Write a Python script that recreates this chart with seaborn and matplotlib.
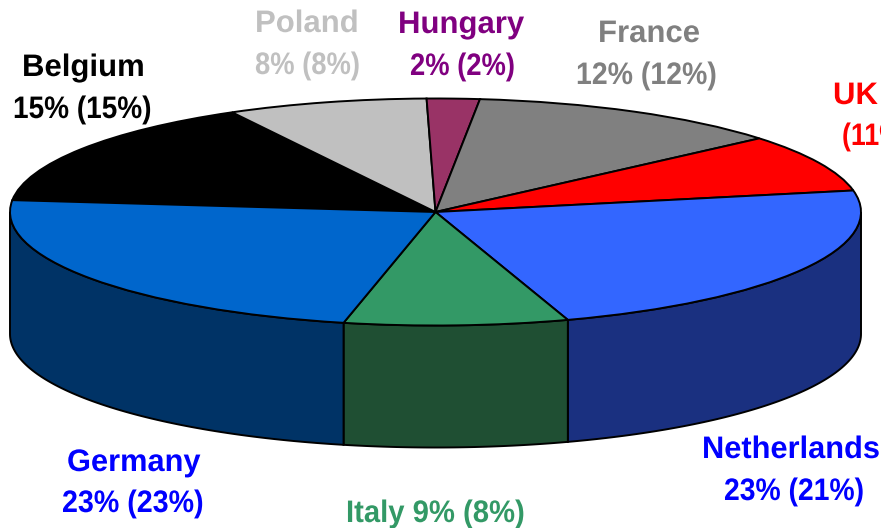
import numpy as np
import seaborn as sns
import matplotlib
matplotlib.use("Agg")
import matplotlib.pyplot as plt
from matplotlib.patheffects import AbstractPathEffect
from matplotlib.transforms import Affine2D

countries = ["Belgium", "Poland", "Hungary", "France", "UK", "Netherlands", "Italy", "Germany"]
# slice sizes as measured on the picture, the labels round them
shares = [15.4, 7.6, 2.0, 12.1, 8.2, 23.0, 8.5, 23.2]
top_colors = ["#000000", "#C0C0C0", "#993366", "#808080", "#FF0000", "#3366FF", "#339966", "#0066CC"]
side_colors = ["#000000", "#C0C0C0", "#993366", "#808080", "#FF0000", "#1A3080", "#1F4F33", "#003366"]

label_texts = ["Belgium", "15% (15%)", "Poland", "8% (8%)", "Hungary", "2% (2%)", "France", "12% (12%)",
               "UK", "(11%)", "Netherlands", "23% (21%)", "Germany", "23% (23%)", "Italy 9% (8%)"]

W, H = 881, 528
cx, cy = 435.5, 212   # pie centre in pixels
rx, ry = 425.5, 113.5 # pie radii in pixels
depth = 122 / ry

# left px, baseline px, horizontal squeeze, colour
label_spots = [
    (22, 76, 1.0, "#000000"), (13, 118, 0.90, "#000000"),
    (255, 32, 1.0, "#C0C0C0"), (255, 74, 0.88, "#C0C0C0"),
    (398, 33, 1.0, "#800080"), (410, 75, 0.88, "#800080"),
    (598, 42, 1.0, "#808080"), (576, 84, 0.915, "#808080"),
    (833, 104, 1.0, "#FF0000"), (842, 145, 0.86, "#FF0000"),
    (702, 458, 0.99, "#0000FF"), (724, 500, 0.91, "#0000FF"),
    (67, 471, 0.99, "#0000FF"), (62, 512, 0.92, "#0000FF"),
    (346, 522, 0.94, "#339966"),
]


class Squeeze(AbstractPathEffect):
    # the original text is set tighter than the font's normal width
    def __init__(self, sx):
        super().__init__()
        self.sx = sx

    def draw_path(self, renderer, gc, tpath, affine, rgbFace=None):
        renderer.draw_path(gc, tpath, Affine2D().scale(self.sx, 1) + affine, rgbFace)


sns.set_theme(style="white")
plt.rcParams['font.family'] = ['Liberation Sans', 'DejaVu Sans']

fig = plt.figure(figsize=(W/100, H/100), dpi=100)
ax = fig.add_axes([0, 0, 1, 1])

wedges, _ = ax.pie(shares, colors=top_colors, startangle=174, counterclock=False,
                   wedgeprops={"edgecolor": "black", "linewidth": 1.4, "zorder": 3})

# squash the pie flat, then hang the wall under the front half
ax.set_aspect('auto')
ax.set_xlim(-cx/rx, (W-cx)/rx)
ax.set_ylim(-(H-cy)/ry, cy/ry)

for w, c in zip(wedges, side_colors):
    t1, t2 = max(w.theta1, -180), min(w.theta2, 0)
    if t2 <= t1:
        continue
    t = np.radians(np.linspace(t1, t2, 80))
    xs = np.cos(t)
    ys = np.sin(t)
    ax.fill(np.r_[xs, xs[::-1]], np.r_[ys, ys[::-1]-depth], facecolor=c,
            edgecolor="black", linewidth=1.4, zorder=2)

for s, (x, y, sx, col) in zip(label_texts, label_spots):
    fig.text(x/W, 1-y/H, s, fontsize=22.4, fontweight="bold", color=col, ha="left", va="baseline",
             path_effects=[Squeeze(sx)])

plt.savefig("out.png", dpi=100)
